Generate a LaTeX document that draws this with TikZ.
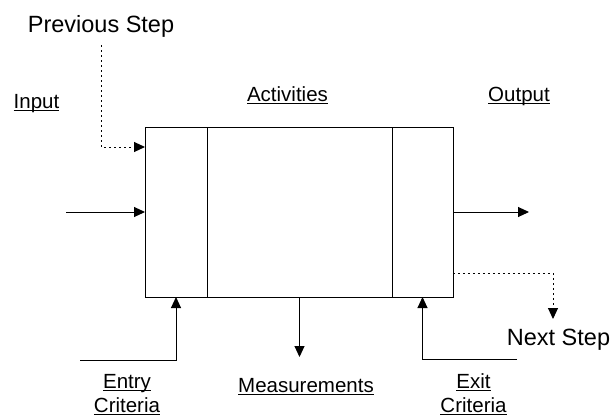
\documentclass[tikz,border=0pt]{standalone}
\usepackage{fontspec}
\setmainfont{Liberation Sans}
\usetikzlibrary{arrows.meta, positioning, calc}
\newcommand{\ulined}[1]{\setbox0\hbox{#1}\rlap{\copy0}\rule[-0.17em]{\wd0}{0.06em}}

\begin{document}
\begin{tikzpicture}[x=1pt, y=-1pt,
  part/.style={rectangle,draw,line width=0.9pt,minimum height=170pt,inner sep=0pt,outer sep=0pt},
  lbl/.style={font=\fontsize{20.5}{24}\selectfont,align=center,anchor=base,inner sep=0pt},
  steplbl/.style={font=\fontsize{23.5}{28}\selectfont,anchor=base,inner sep=0pt},
  flow/.style={-{Triangle[length=11pt,width=10pt]},line width=1pt},
  dotflow/.style={flow,dash pattern=on 1.6pt off 3.4pt}]
\useasboundingbox (0,0) rectangle (612,416);
% the process box, three parts
\node[part, minimum width=62pt] (entry) at (176,212) {};
\node[part, minimum width=185pt, right=0pt of entry] (work) {};
\node[part, minimum width=61pt, right=0pt of work] (exit) {};
% labels
\node[steplbl] (prev) at (101,32) {Previous Step};
\node[lbl] (input) at (36.5,108) {\ulined{Input}};
\node[lbl] (acts) at (287.5,101) {\ulined{Activities}};
\node[lbl] (outp) at (519,101) {\ulined{Output}};
\node[steplbl] (next) at (558.5,345) {Next Step};
\node[lbl] (entrylbl) at (127,412) {\ulined{Entry}\\\ulined{Criteria}};
\node[lbl] (meas) at (306,392) {\ulined{Measurements}};
\node[lbl] (exitlbl) at (473.5,412) {\ulined{Exit}\\\ulined{Criteria}};
% free ends
\coordinate (inputsrc) at (66,212);
\coordinate (outsink) at (529,212);
\coordinate (nextsink) at (553,319);
\coordinate (entrysrc) at (80,360);
\coordinate (meassink) at (299.5,357);
\coordinate (exitsrc) at (517,359);
% connectors
\draw[dotflow] ($(prev.south)+(0,8)$) |- ($(entry.north west)+(0,20)$);
\draw[flow] (inputsrc) -- (entry.west);
\draw[flow] (exit.east) -- (outsink);
\draw[dotflow] ($(exit.south east)+(0,-24)$) -| (nextsink);
\draw[flow] (entrysrc) -| (entry.south);
\draw[flow] (work.south) -- (meassink);
\draw[flow] (exitsrc) -| (exit.south);
\end{tikzpicture}
\end{document}
